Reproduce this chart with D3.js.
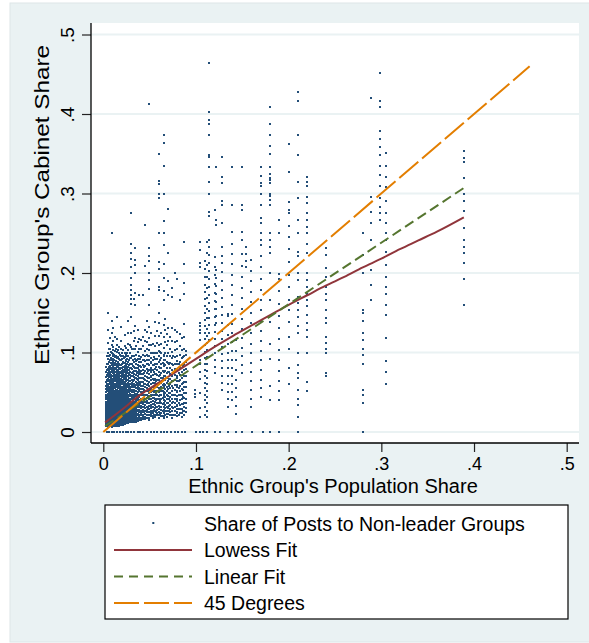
<!DOCTYPE html>
<html><head><meta charset="utf-8">
<script src="https://cdn.jsdelivr.net/npm/d3@7"></script>
<style>body{margin:0;background:#fff;} svg{display:block;} text{font-family:"Liberation Sans",Arial,sans-serif;fill:#000;}</style>
</head><body><svg id="c" width="589" height="643"></svg>
<script>
// ---- Data (shares in per-mille) ----
const denseShares = [3,5,7,9,11,13,15,17,19,21,23,25,27,29,30,31,33,34,35,37,39,41,43,45];
const denseCabinet = [
 [7,9,11,12,14,16,18,19,21,23,25,26,28,30,32,34,36,38,41,44,47,50,54,58,63,69,75,82],
 [6,8,10,11,13,15,17,18,20,22,24,25,27,29,31,32,34,36,38,40,42,44,46,48,51,53,55,58,61,64,67,70,74,79,85,92,100,112,128,150],
 [7,9,10,12,14,16,17,19,21,23,24,26,28,30,31,33,35,37,38,40,42,44,46,48,50,52,54,57,60,63,66,70,74,79,83,90,97,105,118],
 [6,8,10,11,13,15,17,18,20,22,24,25,27,29,31,32,34,36,38,40,41,43,45,47,49,51,53,55,58,61,64,67,71,75,78,84,91,99,110,125,140,250],
 [7,9,11,12,14,16,18,19,21,23,25,26,28,30,32,33,35,37,39,40,42,44,46,48,50,52,54,57,60,63,67,71,75,79,83,88,95,103,114,131],
 [7,9,10,12,14,15,17,19,21,22,24,26,28,29,31,33,35,36,38,40,42,44,46,48,50,52,55,58,61,64,68,72,76,81,87,94,102,120],
 [8,10,11,13,15,17,18,20,22,24,25,27,29,31,32,34,36,38,40,41,43,45,47,49,51,53,56,59,62,65,69,73,77,82,86,93,101,109,117,145],
 [8,10,12,13,15,17,19,20,22,24,26,27,29,31,33,34,36,38,40,42,44,46,48,50,52,55,58,61,64,68,72,76,80,85,92,99,107],
 [9,11,12,14,16,18,19,21,23,25,26,28,30,32,33,35,37,39,41,43,45,47,49,51,54,57,60,63,67,71,75,80,84,90,96,104,115,132],
 [9,11,13,15,16,18,20,22,23,25,27,29,30,32,34,36,38,40,42,44,46,48,51,54,57,60,63,66,70,74,78,82,88,95,103],
 [10,12,14,15,17,19,21,22,24,26,28,29,31,33,35,37,39,41,43,45,48,51,54,57,60,63,67,71,75,79,83,87,94,100,108,122],
 [11,13,14,16,18,20,21,23,25,27,29,31,33,35,37,39,41,43,46,49,52,55,58,61,64,68,72,76,80,84,91,98,106],
 [11,13,15,17,18,20,22,24,26,28,30,32,34,36,38,40,42,44,47,50,53,56,59,62,66,70,74,78,82,88,95,103,111,124,140],
 [12,14,16,18,20,22,24,26,28,30,32,34,36,38,40,42,45,48,51,54,57,60,64,68,72,76,80,86,93,100,109],
 [14,18,24,31,37,45,52,61,70,81,93,107,125,145,161,167,172,179,185,194,207,218,225,237,275],
 [12,14,16,18,20,22,24,26,28,30,32,34,36,38,41,44,47,50,53,56,59,62,66,70,74,79,86,95,104],
 [13,15,17,19,21,23,25,27,29,31,33,35,38,41,44,47,50,53,57,61,65,69,73,77,82,88,96,105,115,127,167],
 [20,29,38,48,58,68,80,92,105,118,133,160,175,200,210,216,232],
 [13,15,17,19,22,24,26,29,31,34,36,39,42,45,48,51,55,59,63,68,72,77,81,86,89,97,108],
 [14,16,18,21,23,26,28,31,34,37,40,43,46,50,54,58,62,66,70,75,80,84,92,101,113,128],
 [15,17,20,22,25,28,31,34,37,40,44,47,51,55,59,63,68,73,78,83,88,95,105,117,172],
 [15,18,21,24,27,30,33,36,39,42,46,50,54,58,63,68,73,77,82,88,94,104,116],
 [16,19,22,25,28,31,35,38,42,46,50,54,58,63,68,73,78,84,90,97,108,120,172],
 [16,19,23,26,30,34,38,42,46,51,56,61,66,71,77,83,89,96,102,114,128,209,261]
];
const coreUpperShares = [4,6,8,10,12,14,16,18,20,22,24,26,28,32,36,40,44];
const coreUpperCabinet = [
 [46,52,57,61,66,72,78,86,95],
 [47,50,56,60,65,69,73,77,82,88,96,104],
 [45,49,54,59,63,68,72,76,81,87,93,101],
 [46,50,55,59,62,66,70,74,78,82,87,92,98,107],
 [47,51,56,60,65,69,73,78,84,90,97],
 [45,49,53,57,60,64,67,71,75,79,84,89,96,105],
 [46,51,55,59,63,67,71,74,78,83,88,94,103],
 [47,50,54,58,62,66,70,74,79,84,90,97],
 [45,49,53,57,61,65,69,73,77,81,86,92,99],
 [46,50,55,59,63,68,72,77,82,87,93],
 [47,51,56,60,64,69,73,78,83,89,96],
 [45,49,53,57,61,66,70,75,80,86,92,100],
 [46,50,55,59,64,68,73,78,84,90],
 [30,37,45,52,58,64,70,76,83,91],
 [28,35,41,48,55,61,67,74,81,90],
 [26,33,40,47,54,61,68,75,83,92],
 [25,32,39,46,53,60,67,74,82,91]
];
const midShares = [47,49,52,54,56,58,60,62,65,67,69,70,72,74,77,80,83,85,87,89];
const midCabinet = [
 [18,21,25,28,32,36,39,43,47,51,55,59,64,69,74,79,85,91,97,104,113,126,140],
 [15,18,22,25,29,33,37,41,45,49,53,58,63,68,73,78,84,90,96,103,110,118,132,160,180,191,200,215,222,231,413],
 [20,23,27,30,34,38,42,46,50,55,60,65,70,75,81,87,93,100,110,124],
 [17,20,24,27,31,35,39,43,47,52,57,62,67,72,78,84,91,99,111],
 [19,22,26,30,34,38,42,47,52,57,62,67,73,79,85,92,100,108,121,138],
 [21,24,28,32,36,41,46,51,56,61,66,72,78,85,92,99,112,127],
 [18,21,25,29,33,37,41,45,50,55,60,65,70,76,82,88,95,102,110,121,137,150,178,183,205,214,250,294,300,312,316,350],
 [20,24,28,32,37,42,47,52,57,62,68,74,80,86,93,100,111,125],
 [17,20,24,28,32,36,40,45,50,55,60,65,71,77,83,90,97,106,119,134,166,177,194,211,235,250,266,300,334,363,374],
 [22,26,30,34,39,44,49,54,59,65,71,77,84,91,100,113,128,142],
 [19,23,27,31,36,41,46,51,56,62,68,74,81,88,96,109,123],
 [23,30,37,45,54,64,75,87,100,115,131,172,190,225,281],
 [21,25,29,34,39,44,49,55,61,67,73,80,87,95,105,119],
 [18,22,26,31,36,41,46,52,58,64,71,78,85,93,101,115,131,170,181],
 [22,26,31,36,41,47,53,59,65,72,79,86,94,103,113,128,200],
 [20,24,29,34,39,45,51,57,64,71,78,86,95,104,115,126,192],
 [24,29,34,40,46,52,58,65,72,80,88,97,108,123,166],
 [19,24,29,35,41,47,54,61,68,76,84,93,103,118],
 [21,26,31,37,43,49,56,63,70,78,86,95,105,120,136,173,188,211,239],
 [25,30,36,42,49,56,63,71,79,88,97,102]
];
const midFillShares = [48,51,55,57,61,64,66,71,75,79,82,86];
const midFillCabinet = [
 [22,30,37,44,52,60,68,77,86,95],
 [24,31,38,45,53,61,69,78,88],
 [21,28,35,43,50,58,66,75,84,94],
 [25,32,40,48,56,64,73,82,92],
 [23,31,39,47,55,63,72,81,90,101],
 [20,27,35,43,51,59,68,77,87],
 [24,32,40,48,57,66,75,85,96],
 [26,33,41,49,58,67,76,86],
 [22,30,38,46,55,64,74,84,95],
 [25,33,41,50,59,68,78,89],
 [21,29,37,46,55,64,74,85],
 [27,35,44,53,62,72,83,94]
];
const wideShares = [99,104,110,112,114,120,122,128,135,139,143,150,154,159,170,180,190,200,210,220,240,280,289,299,305,389];
const wideCabinet = [
 [44,48,53],
 [0,19,30,49,67,76,86,90,116,124,128,133,137,208,212,229,239],
 [22,31,40,47,55,62,70,78,86,93,101,109,117,125,133,141,150,158,167,176,185,195,205,215],
 [19,27,36,44,52,60,68,77,85,94,103,112,121,130,143,155,168,181,195,210,225,239],
 [116,125,134,143,152,162,172,182,193,203,213,223,233,242,272,277,300,315,333,346,348,374,388,392,403,464],
 [74,82,91,99,108,117,126,135,145,155,165,175,186,197,208,220,279],
 [137,146,155,164,174,184,194,204,261,267,333],
 [53,62,71,80,89,98,107,117,127,137,147,157,168,179,190,201,212,222,233,263,286,291,313,321,346],
 [32,41,50,60,70,80,90,100,111,122,134,146,149],
 [40,50,60,70,80,91,102,113,124,136,148,160,172,185,198,211,224,237,251,286,333],
 [23,33,44,55,66,78,90,102,116],
 [74,84,95,106,118,130,142,155,168,181,195,209,224,241,251,279,286,333],
 [208,215,224,233],
 [32,42,53,64,75,87,99,111,124,137,150,163,176,190,203,216],
 [44,55,66,78,90,102,114,127,140,153,166,179,193,207,221,235,241,250,263,269,286,300,309,313,322,333],
 [40,58,92,111,138,166,200,225,233,241,250,286,292,297,299,313,317,320,325,333,350,360,374,388,409],
 [40,52,64,77,90,103,117,131,146,161,177,193,199,250,267],
 [60,80,104,120,138,153,166,182,198,214,230,245,259,275,279,289,327,362],
 [0,19,34,42,53,68,74,84,100,124,133,145,154,162,170,191,200,221,227,250,267,294,315,348,374,416,428],
 [51,63,99,120,128,137,147,158,166,174,183,191,200,225,237,250,258,267,275,288,296,309,315,321],
 [70,74,99,105,112,120,137,143,154,166,174,183,195,206,223,231],
 [0,36,47,53,86,97,105,116,124,139,150,153,200,223,250],
 [166,185,204,242,263,277,296,420],
 [267,275,283,294,309,323,334,348,359,369,379,409,416,451],
 [61,76,89,118,147,160,174,183,195,210,227,242,250,263,275,290,308,321,334,351],
 [160,193,212,225,233,242,257,278,290,299,319,340,345,353]
];
const zeroShares = [4,6,9,12,15,18,21,24,27,30,33,37,40,43,47,51,55,58,62,66,69,73,77,81,85,88,100,108,112,121,126,135,143,150,160,172,180,190];

const lowessX = [0.002,0.02,0.04,0.06,0.08,0.10,0.12,0.14,0.16,0.18,0.20,0.22,0.24,0.26,0.28,0.30,0.32,0.34,0.36,0.389];
const lowessY = [0.012,0.028,0.047,0.062,0.077,0.092,0.107,0.121,0.134,0.147,0.160,0.172,0.184,0.195,0.207,0.218,0.230,0.241,0.252,0.270];
const linearX = [0.002,0.389];
const linearY = [0.0075,0.307];
const degX = [0,0.46];
const degY = [0,0.46];

const xTicks = [0,0.1,0.2,0.3,0.4,0.5];
const xTickLabels = ["0",".1",".2",".3",".4",".5"];
const yTicks = [0,0.1,0.2,0.3,0.4,0.5];
const yTickLabels = ["0",".1",".2",".3",".4",".5"];
const legendLabels = ["Share of Posts to Non-leader Groups","Lowess Fit","Linear Fit","45 Degrees"];

// ---- Drawing ----
const NAVY="#1a476f", MAROON="#90353b", GREEN="#55752f", ORANGE="#e37e00", BG="#eaf2f3";
const svg = d3.select("#c");
svg.append("rect").attr("x",10).attr("y",3).attr("width",600).attr("height",639).attr("fill",BG).attr("stroke","#dde6e8").attr("stroke-width",1);
const P = {l:91, r:579, t:23, b:443};
svg.append("rect").attr("x",P.l).attr("y",P.t).attr("width",P.r-P.l).attr("height",P.b-P.t).attr("fill","#fff");

const x = d3.scaleLinear().domain([0,0.5]).range([103.3,566.7]);
const y = d3.scaleLinear().domain([0,0.5]).range([432,34.5]);

// grid
svg.append("g").selectAll("line").data(yTicks).join("line")
  .attr("x1",P.l).attr("x2",P.r).attr("y1",d=>y(d)).attr("y2",d=>y(d))
  .attr("stroke",BG).attr("stroke-width",2.2);

// points
const pts=[];
[[denseShares,denseCabinet],[coreUpperShares,coreUpperCabinet],[midShares,midCabinet],[midFillShares,midFillCabinet],[wideShares,wideCabinet]].forEach(([xs,ys])=>{
  xs.forEach((xv,i)=>ys[i].forEach(yv=>pts.push([xv/1000,yv/1000])));
});
zeroShares.forEach(xv=>pts.push([xv/1000,0]));
svg.append("g").attr("shape-rendering","crispEdges").selectAll("rect").data(pts).join("rect")
  .attr("x",d=>x(d[0])-1).attr("y",d=>y(d[1])-1).attr("width",2).attr("height",2)
  .attr("fill","#234e78");

// lines
const line = d3.line().x(d=>x(d[0])).y(d=>y(d[1]));
const mk=(xs,ys)=>xs.map((v,i)=>[v,ys[i]]);
svg.append("path").attr("d",line.curve(d3.curveMonotoneX)(mk(lowessX,lowessY))).attr("fill","none").attr("stroke",MAROON).attr("stroke-width",2);
line.curve(d3.curveLinear);
svg.append("path").attr("d",line(mk(linearX,linearY))).attr("fill","none").attr("stroke",GREEN).attr("stroke-width",2).attr("stroke-dasharray","10,5");
svg.append("path").attr("d",line(mk(degX,degY))).attr("fill","none").attr("stroke",ORANGE).attr("stroke-width",2).attr("stroke-dasharray","25,5");

// axes
const xAxis = d3.axisBottom(x).tickValues(xTicks).tickFormat((d,i)=>xTickLabels[i]).tickSize(9).tickPadding(5);
const gx = svg.append("g").attr("transform",`translate(0,${P.b})`).call(xAxis);
gx.select(".domain").remove();
gx.selectAll("line").attr("stroke","#222").attr("stroke-width",1.2);
gx.selectAll("text").attr("y",27).attr("dy",null).style("font-size","18px").style("font-family","'Liberation Sans',Arial,sans-serif").attr("fill","#000");

const yAxis = d3.axisLeft(y).tickValues(yTicks).tickFormat((d,i)=>yTickLabels[i]).tickSize(9);
const gy = svg.append("g").attr("transform",`translate(${P.l},0)`).call(yAxis);
gy.select(".domain").remove();
gy.selectAll("line").attr("stroke","#222").attr("stroke-width",1.2);
gy.selectAll("text").attr("x",null).attr("dy",null).attr("text-anchor","middle")
  .attr("transform","translate(-17,0) rotate(-90)").style("font-size","19px").style("font-family","'Liberation Sans',Arial,sans-serif").attr("fill","#000");

svg.append("line").attr("x1",P.l).attr("x2",P.l).attr("y1",P.t).attr("y2",P.b).attr("stroke","#000").attr("stroke-width",1.3);
svg.append("line").attr("x1",P.l).attr("x2",P.r).attr("y1",P.b).attr("y2",P.b).attr("stroke","#000").attr("stroke-width",1.3);

// axis titles
svg.append("text").attr("x",333).attr("y",493).attr("text-anchor","middle").style("font-size","20px").text("Ethnic Group's Population Share");
svg.append("text").attr("transform","translate(49,205) rotate(-90)").attr("text-anchor","middle")
  .attr("textLength",320).attr("lengthAdjust","spacingAndGlyphs").style("font-size","19.5px").text("Ethnic Group's Cabinet Share");

// legend
const L = {x:105, y:505, w:463, h:114};
svg.append("rect").attr("x",L.x).attr("y",L.y).attr("width",L.w).attr("height",L.h).attr("fill","#fff").attr("stroke","#000").attr("stroke-width",1.2);
const rows = [524, 550, 576.5, 603];
const lg = svg.append("g");
lg.selectAll("text").data(legendLabels).join("text")
  .attr("x",204).attr("y",(d,i)=>rows[i]+7).style("font-size","19.5px").text(d=>d);
lg.append("rect").attr("x",152.3).attr("y",rows[0]-2).attr("width",2).attr("height",2).attr("fill",NAVY);
const sty=[[MAROON,null],[GREEN,"9,6"],[ORANGE,"25,5"]];
sty.forEach((s,i)=>{
  const ln=lg.append("line").attr("x1",114).attr("x2",192).attr("y1",rows[i+1]).attr("y2",rows[i+1]).attr("stroke",s[0]).attr("stroke-width",2);
  if(s[1]) ln.attr("stroke-dasharray",s[1]);
});
</script></body></html>
